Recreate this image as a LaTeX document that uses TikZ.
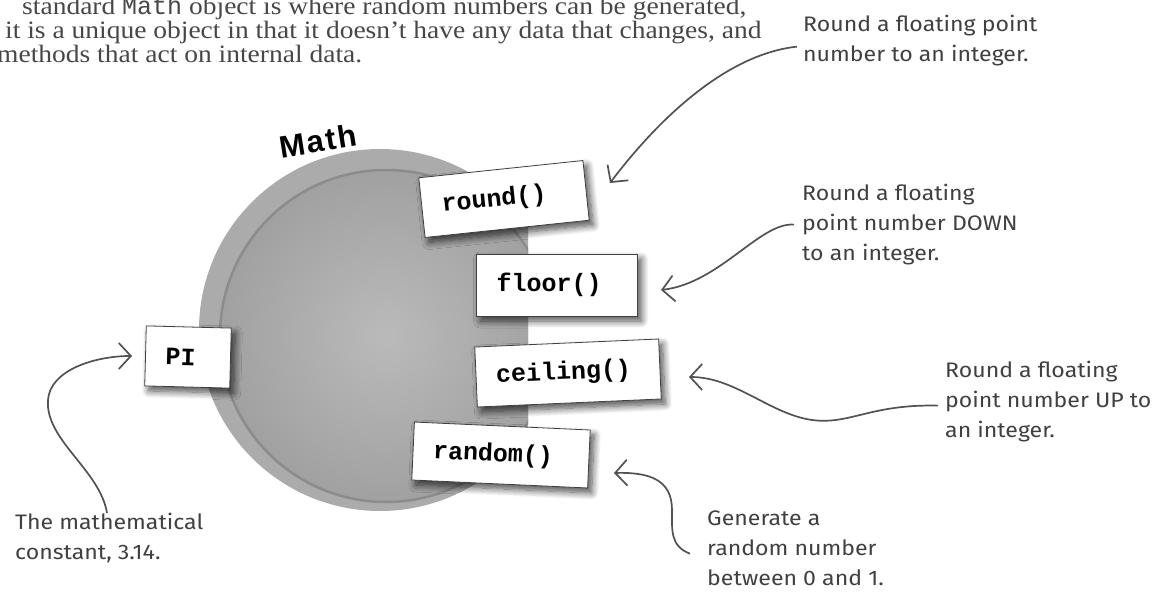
\documentclass[tikz,border=0pt]{standalone}
\usepackage{fontspec}
\setmainfont[FakeStretch=1.1]{Liberation Serif}
\newfontfamily\handfont[FakeStretch=1.1]{Fira Sans}
\newfontfamily\codefont{Liberation Mono}
\newfontfamily\labelfont[LetterSpace=6]{Liberation Sans}
\usetikzlibrary{arrows.meta,shadows.blur}
\begin{document}
\begin{tikzpicture}[x=1pt,y=-1pt,
  box/.style={draw=black!75, line width=0.8pt, fill=white, minimum height=60pt,
    inner xsep=20pt, align=left, font=\codefont\bfseries\fontsize{25}{25}\selectfont,
    blur shadow={shadow xshift=4pt, shadow yshift=-5pt, shadow blur radius=7pt,
      shadow opacity=70, shadow blur steps=10}},
  note/.style={font=\handfont\fontsize{21}{30}\selectfont, text=black!75, align=left,
    inner sep=0pt, anchor=north west},
  body/.style={font=\fontsize{25}{24}\selectfont, text=black!72, inner sep=0pt, anchor=base west},
  ptr/.style={draw=black!68, line width=1.7pt,
    -{Straight Barb[length=12pt,width=26pt,line width=1.7pt]}}
]
\useasboundingbox (0,0) rectangle (1154,602);

% body text
\node[body] (t1) at (22,15) {standard {\codefont Math} object is where random numbers can be generated,};
\node[body] (t2) at (5,39) {it is a unique object in that it doesn’t have any data that changes, and};
\node[body] (t3) at (-3,63) {methods that act on internal data.};

% blob
\begin{scope}
  \clip (0,0) rectangle (528,602);
  \fill[black!33] (380,330) circle (181);
  \shade[inner color=black!27, outer color=black!37] (386,336) circle (167);
  \draw[black!45, line width=2.5pt] (386,336) circle (166);
\end{scope}

% label
\node[font=\labelfont\bfseries\fontsize{31}{31}\selectfont, rotate=9] (mathlbl) at (318,141) {Math};

% boxes
\node[box, text width=125pt, rotate=6] (round) at (504,199) {round()};
\node[box, text width=121pt, minimum height=62pt] (floor) at (557,285) {floor()};
\node[box, text width=144pt, rotate=2.5] (ceiling) at (568,373) {ceiling()};
\node[box, text width=136pt, minimum height=58pt, rotate=-2.6] (random) at (501,455) {random()};
\node[box, text width=45pt, rotate=-1.5] (pi) at (188,357) {PI};

% notes
\node[note] (n1) at (803,15) {Round a floating point\\number to an integer.};
\node[note] (n2) at (802,184) {Round a floating\\point number DOWN\\to an integer.};
\node[note] (n3) at (945,361) {Round a floating\\point number UP to\\an integer.};
\node[note] (n4) at (707,511) {Generate a\\random number\\between 0 and 1.};
\node[note] (n5) at (15,513) {The mathematical\\constant, 3.14.};

% arrow tips
\coordinate (a1) at (610,183);
\coordinate (a2) at (661,290);
\coordinate (a3) at (689,377);
\coordinate (a4) at (614,473);
\coordinate (a5) at (132,356);

\draw[ptr] ([xshift=-6pt,yshift=-6pt]n1.west) .. controls (720,55) and (650,130) .. (a1);
\draw[ptr] ([xshift=-8pt]n2.west) .. controls (760,222) and (720,283) .. (a2);
\draw[ptr] ([xshift=-7pt,yshift=-4pt]n3.west) .. controls (870,404) and (850,425) .. (812,420)
  .. controls (770,414) and (735,377) .. (a3);
\draw[ptr] ([xshift=-17pt,yshift=-5pt]n4.west) .. controls (670,546) and (672,530) .. (672,510)
  .. controls (672,480) and (650,472) .. (a4);
\draw[ptr] ([xshift=92pt]n5.north west) .. controls (100,470) and (45,440) .. (48,400)
  .. controls (50,370) and (95,356) .. (a5);
\end{tikzpicture}
\end{document}
